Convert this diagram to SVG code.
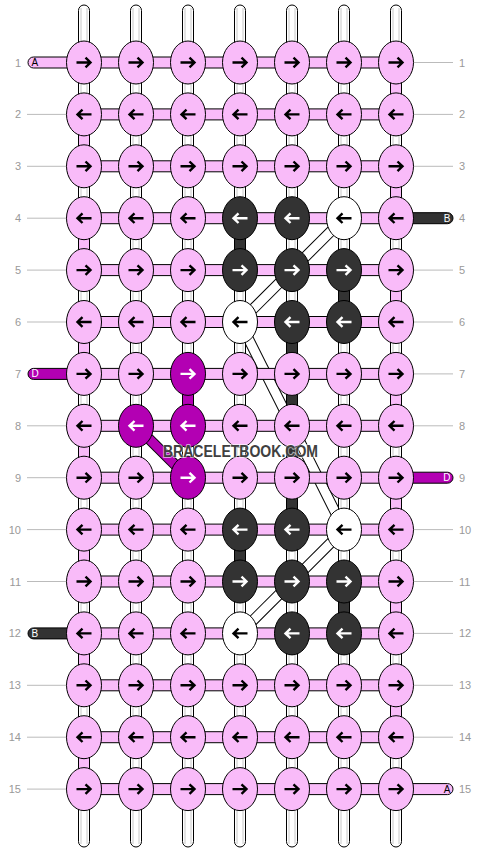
<svg xmlns="http://www.w3.org/2000/svg" xmlns:xlink="http://www.w3.org/1999/xlink" width="480" height="852" viewBox="0 0 480 852">
<style>
.p{fill:#f9bbf9;stroke:#000;stroke-width:1}
.d{fill:#333333;stroke:#000;stroke-width:1}
.m{fill:#b300b3;stroke:#000;stroke-width:1}
.w{fill:#ffffff;stroke:#000;stroke-width:1}
.ab{stroke:#000;fill:none;stroke-width:2.4}
.aw{stroke:#fff;fill:none;stroke-width:2.4}
.gl{stroke:#c8c8c8;stroke-width:1}
.ll{stroke:#bbbbbb;stroke-width:1}
.num{font-family:"Liberation Sans",Arial,sans-serif;font-size:11px;fill:#999999}
.sl{font-family:"Liberation Sans",Arial,sans-serif;font-size:10px}
</style>
<defs>
<path id="R" d="M-7.5,0H6M1.5,-4.8L6.5,0L1.5,4.8"/>
<path id="L" d="M7.5,0H-6M-1.5,-4.8L-6.5,0L-1.5,4.8"/>
<ellipse id="K" rx="17.5" ry="21.5"/>
</defs>
<rect width="480" height="852" fill="#fff"/>
<g id="labels">
<g class="ll">
<line x1="27" y1="114.4" x2="66" y2="114.4"/><line x1="27" y1="166.3" x2="66" y2="166.3"/><line x1="27" y1="218.2" x2="66" y2="218.2"/><line x1="27" y1="270.1" x2="66" y2="270.1"/><line x1="27" y1="322" x2="66" y2="322"/><line x1="27" y1="425.8" x2="66" y2="425.8"/><line x1="27" y1="477.7" x2="66" y2="477.7"/><line x1="27" y1="529.6" x2="66" y2="529.6"/><line x1="27" y1="581.5" x2="66" y2="581.5"/><line x1="27" y1="685.3" x2="66" y2="685.3"/><line x1="27" y1="737.2" x2="66" y2="737.2"/><line x1="27" y1="789.1" x2="66" y2="789.1"/>
<line x1="414" y1="62.5" x2="453" y2="62.5"/><line x1="414" y1="114.4" x2="453" y2="114.4"/><line x1="414" y1="166.3" x2="453" y2="166.3"/><line x1="414" y1="270.1" x2="453" y2="270.1"/><line x1="414" y1="322" x2="453" y2="322"/><line x1="414" y1="373.9" x2="453" y2="373.9"/><line x1="414" y1="425.8" x2="453" y2="425.8"/><line x1="414" y1="529.6" x2="453" y2="529.6"/><line x1="414" y1="581.5" x2="453" y2="581.5"/><line x1="414" y1="633.4" x2="453" y2="633.4"/><line x1="414" y1="685.3" x2="453" y2="685.3"/><line x1="414" y1="737.2" x2="453" y2="737.2"/>
</g>
<g class="num" text-anchor="end">
<text x="21" y="66.5">1</text><text x="21" y="118.4">2</text><text x="21" y="170.3">3</text><text x="21" y="222.2">4</text><text x="21" y="274.1">5</text><text x="21" y="326">6</text><text x="21" y="377.9">7</text><text x="21" y="429.8">8</text><text x="21" y="481.7">9</text><text x="21" y="533.6">10</text><text x="21" y="585.5">11</text><text x="21" y="637.4">12</text><text x="21" y="689.3">13</text><text x="21" y="741.2">14</text><text x="21" y="793.1">15</text>
</g>
<g class="num">
<text x="459" y="66.5">1</text><text x="459" y="118.4">2</text><text x="459" y="170.3">3</text><text x="459" y="222.2">4</text><text x="459" y="274.1">5</text><text x="459" y="326">6</text><text x="459" y="377.9">7</text><text x="459" y="429.8">8</text><text x="459" y="481.7">9</text><text x="459" y="533.6">10</text><text x="459" y="585.5">11</text><text x="459" y="637.4">12</text><text x="459" y="689.3">13</text><text x="459" y="741.2">14</text><text x="459" y="793.1">15</text>
</g>
</g>
<g id="connectors">
<g id="diagonals">
<g stroke="#000" stroke-width="11">
<line x1="344" y1="218.2" x2="240" y2="322"/><line x1="240" y1="322" x2="344" y2="529.6"/><line x1="344" y1="529.6" x2="240" y2="633.4"/><line x1="136" y1="425.8" x2="188" y2="477.7"/>
</g>
<g stroke="#fff" stroke-width="9">
<line x1="344" y1="218.2" x2="240" y2="322"/><line x1="240" y1="322" x2="344" y2="529.6"/><line x1="344" y1="529.6" x2="240" y2="633.4"/>
</g>
<line x1="136" y1="425.8" x2="188" y2="477.7" stroke="#b300b3" stroke-width="9"/>
</g>
<g id="vertical-threads">
<path class="w" d="M78.5,841.5V10.5A5.5,5.5 0 0 1 89.5,10.5V841.5A5.5,5.5 0 0 1 78.5,841.5Z"/>
<path class="w" d="M130.5,841.5V10.5A5.5,5.5 0 0 1 141.5,10.5V841.5A5.5,5.5 0 0 1 130.5,841.5Z"/>
<path class="w" d="M182.5,841.5V10.5A5.5,5.5 0 0 1 193.5,10.5V841.5A5.5,5.5 0 0 1 182.5,841.5Z"/>
<path class="w" d="M234.5,841.5V10.5A5.5,5.5 0 0 1 245.5,10.5V841.5A5.5,5.5 0 0 1 234.5,841.5Z"/>
<path class="w" d="M286.5,841.5V10.5A5.5,5.5 0 0 1 297.5,10.5V841.5A5.5,5.5 0 0 1 286.5,841.5Z"/>
<path class="w" d="M338.5,841.5V10.5A5.5,5.5 0 0 1 349.5,10.5V841.5A5.5,5.5 0 0 1 338.5,841.5Z"/>
<path class="w" d="M390.5,841.5V10.5A5.5,5.5 0 0 1 401.5,10.5V841.5A5.5,5.5 0 0 1 390.5,841.5Z"/>
<g class="gl">
<line x1="81" y1="8" x2="81" y2="844"/><line x1="87" y1="8" x2="87" y2="844"/>
<line x1="133" y1="8" x2="133" y2="844"/><line x1="139" y1="8" x2="139" y2="844"/>
<line x1="185" y1="8" x2="185" y2="844"/><line x1="191" y1="8" x2="191" y2="844"/>
<line x1="237" y1="8" x2="237" y2="844"/><line x1="243" y1="8" x2="243" y2="844"/>
<line x1="289" y1="8" x2="289" y2="844"/><line x1="295" y1="8" x2="295" y2="844"/>
<line x1="341" y1="8" x2="341" y2="844"/><line x1="347" y1="8" x2="347" y2="844"/>
<line x1="393" y1="8" x2="393" y2="844"/><line x1="399" y1="8" x2="399" y2="844"/>
</g>
<g class="p">
<rect x="390.5" y="62.5" width="11" height="51.9"/><rect x="390.5" y="166.3" width="11" height="51.9"/><rect x="390.5" y="270.1" width="11" height="51.9"/><rect x="390.5" y="373.9" width="11" height="51.9"/><rect x="390.5" y="477.7" width="11" height="51.9"/><rect x="390.5" y="581.5" width="11" height="51.9"/><rect x="390.5" y="685.3" width="11" height="51.9"/>
<rect x="78.5" y="114.4" width="11" height="51.9"/><rect x="78.5" y="218.2" width="11" height="51.9"/><rect x="78.5" y="322" width="11" height="51.9"/><rect x="78.5" y="425.8" width="11" height="51.9"/><rect x="78.5" y="529.6" width="11" height="51.9"/><rect x="78.5" y="633.4" width="11" height="51.9"/><rect x="78.5" y="737.2" width="11" height="51.9"/>
</g>
<g class="d">
<rect x="234.5" y="218.2" width="11" height="51.9"/><rect x="234.5" y="529.6" width="11" height="51.9"/>
<rect x="338.5" y="270.1" width="11" height="51.9"/><rect x="338.5" y="581.5" width="11" height="51.9"/>
<rect x="286.5" y="322" width="11" height="207.6"/>
</g>
<rect class="m" x="182.5" y="373.9" width="11" height="51.9"/>
</g>
<g id="edge-threads">
<path class="p" d="M84,57V68H33.5A5.5,5.5 0 0 1 33.5,57Z"/>
<path class="m" d="M84,368.4V379.4H33.5A5.5,5.5 0 0 1 33.5,368.4Z"/>
<path class="d" d="M84,627.9V638.9H33.5A5.5,5.5 0 0 1 33.5,627.9Z"/>
<path class="d" d="M396,212.7V223.7H447.5A5.5,5.5 0 0 0 447.5,212.7Z"/>
<path class="m" d="M396,472.2V483.2H447.5A5.5,5.5 0 0 0 447.5,472.2Z"/>
<path class="p" d="M396,783.6V794.6H447.5A5.5,5.5 0 0 0 447.5,783.6Z"/>
<text class="sl" x="31.5" y="66" fill="#000">A</text>
<text class="sl" x="31.5" y="377.4" fill="#fff">D</text>
<text class="sl" x="31.5" y="636.9" fill="#fff">B</text>
<text class="sl" x="450.5" y="221.7" fill="#fff" text-anchor="end">B</text>
<text class="sl" x="450.5" y="481.2" fill="#fff" text-anchor="end">D</text>
<text class="sl" x="450.5" y="792.6" fill="#000" text-anchor="end">A</text>
</g>
<g id="horizontal-threads" class="p">
<rect x="84" y="57" width="312" height="11"/><rect x="84" y="108.9" width="312" height="11"/><rect x="84" y="160.8" width="312" height="11"/><rect x="84" y="212.7" width="312" height="11"/><rect x="84" y="264.6" width="312" height="11"/><rect x="84" y="316.5" width="312" height="11"/><rect x="84" y="368.4" width="312" height="11"/><rect x="84" y="420.3" width="312" height="11"/><rect x="84" y="472.2" width="312" height="11"/><rect x="84" y="524.1" width="312" height="11"/><rect x="84" y="576" width="312" height="11"/><rect x="84" y="627.9" width="312" height="11"/><rect x="84" y="679.8" width="312" height="11"/><rect x="84" y="731.7" width="312" height="11"/><rect x="84" y="783.6" width="312" height="11"/>
</g>
</g>
<g id="knots">
<g id="k1-1" transform="translate(84,62.5)"><use href="#K" class="p"/><use href="#R" class="ab"/></g>
<g id="k1-2" transform="translate(136,62.5)"><use href="#K" class="p"/><use href="#R" class="ab"/></g>
<g id="k1-3" transform="translate(188,62.5)"><use href="#K" class="p"/><use href="#R" class="ab"/></g>
<g id="k1-4" transform="translate(240,62.5)"><use href="#K" class="p"/><use href="#R" class="ab"/></g>
<g id="k1-5" transform="translate(292,62.5)"><use href="#K" class="p"/><use href="#R" class="ab"/></g>
<g id="k1-6" transform="translate(344,62.5)"><use href="#K" class="p"/><use href="#R" class="ab"/></g>
<g id="k1-7" transform="translate(396,62.5)"><use href="#K" class="p"/><use href="#R" class="ab"/></g>
<g id="k2-1" transform="translate(84,114.4)"><use href="#K" class="p"/><use href="#L" class="ab"/></g>
<g id="k2-2" transform="translate(136,114.4)"><use href="#K" class="p"/><use href="#L" class="ab"/></g>
<g id="k2-3" transform="translate(188,114.4)"><use href="#K" class="p"/><use href="#L" class="ab"/></g>
<g id="k2-4" transform="translate(240,114.4)"><use href="#K" class="p"/><use href="#L" class="ab"/></g>
<g id="k2-5" transform="translate(292,114.4)"><use href="#K" class="p"/><use href="#L" class="ab"/></g>
<g id="k2-6" transform="translate(344,114.4)"><use href="#K" class="p"/><use href="#L" class="ab"/></g>
<g id="k2-7" transform="translate(396,114.4)"><use href="#K" class="p"/><use href="#L" class="ab"/></g>
<g id="k3-1" transform="translate(84,166.3)"><use href="#K" class="p"/><use href="#R" class="ab"/></g>
<g id="k3-2" transform="translate(136,166.3)"><use href="#K" class="p"/><use href="#R" class="ab"/></g>
<g id="k3-3" transform="translate(188,166.3)"><use href="#K" class="p"/><use href="#R" class="ab"/></g>
<g id="k3-4" transform="translate(240,166.3)"><use href="#K" class="p"/><use href="#R" class="ab"/></g>
<g id="k3-5" transform="translate(292,166.3)"><use href="#K" class="p"/><use href="#R" class="ab"/></g>
<g id="k3-6" transform="translate(344,166.3)"><use href="#K" class="p"/><use href="#R" class="ab"/></g>
<g id="k3-7" transform="translate(396,166.3)"><use href="#K" class="p"/><use href="#R" class="ab"/></g>
<g id="k4-1" transform="translate(84,218.2)"><use href="#K" class="p"/><use href="#L" class="ab"/></g>
<g id="k4-2" transform="translate(136,218.2)"><use href="#K" class="p"/><use href="#L" class="ab"/></g>
<g id="k4-3" transform="translate(188,218.2)"><use href="#K" class="p"/><use href="#L" class="ab"/></g>
<g id="k4-4" transform="translate(240,218.2)"><use href="#K" class="d"/><use href="#L" class="aw"/></g>
<g id="k4-5" transform="translate(292,218.2)"><use href="#K" class="d"/><use href="#L" class="aw"/></g>
<g id="k4-6" transform="translate(344,218.2)"><use href="#K" class="w"/><use href="#L" class="ab"/></g>
<g id="k4-7" transform="translate(396,218.2)"><use href="#K" class="p"/><use href="#L" class="ab"/></g>
<g id="k5-1" transform="translate(84,270.1)"><use href="#K" class="p"/><use href="#R" class="ab"/></g>
<g id="k5-2" transform="translate(136,270.1)"><use href="#K" class="p"/><use href="#R" class="ab"/></g>
<g id="k5-3" transform="translate(188,270.1)"><use href="#K" class="p"/><use href="#R" class="ab"/></g>
<g id="k5-4" transform="translate(240,270.1)"><use href="#K" class="d"/><use href="#R" class="aw"/></g>
<g id="k5-5" transform="translate(292,270.1)"><use href="#K" class="d"/><use href="#R" class="aw"/></g>
<g id="k5-6" transform="translate(344,270.1)"><use href="#K" class="d"/><use href="#R" class="aw"/></g>
<g id="k5-7" transform="translate(396,270.1)"><use href="#K" class="p"/><use href="#R" class="ab"/></g>
<g id="k6-1" transform="translate(84,322)"><use href="#K" class="p"/><use href="#L" class="ab"/></g>
<g id="k6-2" transform="translate(136,322)"><use href="#K" class="p"/><use href="#L" class="ab"/></g>
<g id="k6-3" transform="translate(188,322)"><use href="#K" class="p"/><use href="#L" class="ab"/></g>
<g id="k6-4" transform="translate(240,322)"><use href="#K" class="w"/><use href="#L" class="ab"/></g>
<g id="k6-5" transform="translate(292,322)"><use href="#K" class="d"/><use href="#L" class="aw"/></g>
<g id="k6-6" transform="translate(344,322)"><use href="#K" class="d"/><use href="#L" class="aw"/></g>
<g id="k6-7" transform="translate(396,322)"><use href="#K" class="p"/><use href="#L" class="ab"/></g>
<g id="k7-1" transform="translate(84,373.9)"><use href="#K" class="p"/><use href="#R" class="ab"/></g>
<g id="k7-2" transform="translate(136,373.9)"><use href="#K" class="p"/><use href="#R" class="ab"/></g>
<g id="k7-3" transform="translate(188,373.9)"><use href="#K" class="m"/><use href="#R" class="aw"/></g>
<g id="k7-4" transform="translate(240,373.9)"><use href="#K" class="p"/><use href="#R" class="ab"/></g>
<g id="k7-5" transform="translate(292,373.9)"><use href="#K" class="p"/><use href="#R" class="ab"/></g>
<g id="k7-6" transform="translate(344,373.9)"><use href="#K" class="p"/><use href="#R" class="ab"/></g>
<g id="k7-7" transform="translate(396,373.9)"><use href="#K" class="p"/><use href="#R" class="ab"/></g>
<g id="k8-1" transform="translate(84,425.8)"><use href="#K" class="p"/><use href="#L" class="ab"/></g>
<g id="k8-2" transform="translate(136,425.8)"><use href="#K" class="m"/><use href="#L" class="aw"/></g>
<g id="k8-3" transform="translate(188,425.8)"><use href="#K" class="m"/><use href="#L" class="aw"/></g>
<g id="k8-4" transform="translate(240,425.8)"><use href="#K" class="p"/><use href="#L" class="ab"/></g>
<g id="k8-5" transform="translate(292,425.8)"><use href="#K" class="p"/><use href="#L" class="ab"/></g>
<g id="k8-6" transform="translate(344,425.8)"><use href="#K" class="p"/><use href="#L" class="ab"/></g>
<g id="k8-7" transform="translate(396,425.8)"><use href="#K" class="p"/><use href="#L" class="ab"/></g>
<g id="k9-1" transform="translate(84,477.7)"><use href="#K" class="p"/><use href="#R" class="ab"/></g>
<g id="k9-2" transform="translate(136,477.7)"><use href="#K" class="p"/><use href="#R" class="ab"/></g>
<g id="k9-3" transform="translate(188,477.7)"><use href="#K" class="m"/><use href="#R" class="aw"/></g>
<g id="k9-4" transform="translate(240,477.7)"><use href="#K" class="p"/><use href="#R" class="ab"/></g>
<g id="k9-5" transform="translate(292,477.7)"><use href="#K" class="p"/><use href="#R" class="ab"/></g>
<g id="k9-6" transform="translate(344,477.7)"><use href="#K" class="p"/><use href="#R" class="ab"/></g>
<g id="k9-7" transform="translate(396,477.7)"><use href="#K" class="p"/><use href="#R" class="ab"/></g>
<g id="k10-1" transform="translate(84,529.6)"><use href="#K" class="p"/><use href="#L" class="ab"/></g>
<g id="k10-2" transform="translate(136,529.6)"><use href="#K" class="p"/><use href="#L" class="ab"/></g>
<g id="k10-3" transform="translate(188,529.6)"><use href="#K" class="p"/><use href="#L" class="ab"/></g>
<g id="k10-4" transform="translate(240,529.6)"><use href="#K" class="d"/><use href="#L" class="aw"/></g>
<g id="k10-5" transform="translate(292,529.6)"><use href="#K" class="d"/><use href="#L" class="aw"/></g>
<g id="k10-6" transform="translate(344,529.6)"><use href="#K" class="w"/><use href="#L" class="ab"/></g>
<g id="k10-7" transform="translate(396,529.6)"><use href="#K" class="p"/><use href="#L" class="ab"/></g>
<g id="k11-1" transform="translate(84,581.5)"><use href="#K" class="p"/><use href="#R" class="ab"/></g>
<g id="k11-2" transform="translate(136,581.5)"><use href="#K" class="p"/><use href="#R" class="ab"/></g>
<g id="k11-3" transform="translate(188,581.5)"><use href="#K" class="p"/><use href="#R" class="ab"/></g>
<g id="k11-4" transform="translate(240,581.5)"><use href="#K" class="d"/><use href="#R" class="aw"/></g>
<g id="k11-5" transform="translate(292,581.5)"><use href="#K" class="d"/><use href="#R" class="aw"/></g>
<g id="k11-6" transform="translate(344,581.5)"><use href="#K" class="d"/><use href="#R" class="aw"/></g>
<g id="k11-7" transform="translate(396,581.5)"><use href="#K" class="p"/><use href="#R" class="ab"/></g>
<g id="k12-1" transform="translate(84,633.4)"><use href="#K" class="p"/><use href="#L" class="ab"/></g>
<g id="k12-2" transform="translate(136,633.4)"><use href="#K" class="p"/><use href="#L" class="ab"/></g>
<g id="k12-3" transform="translate(188,633.4)"><use href="#K" class="p"/><use href="#L" class="ab"/></g>
<g id="k12-4" transform="translate(240,633.4)"><use href="#K" class="w"/><use href="#L" class="ab"/></g>
<g id="k12-5" transform="translate(292,633.4)"><use href="#K" class="d"/><use href="#L" class="aw"/></g>
<g id="k12-6" transform="translate(344,633.4)"><use href="#K" class="d"/><use href="#L" class="aw"/></g>
<g id="k12-7" transform="translate(396,633.4)"><use href="#K" class="p"/><use href="#L" class="ab"/></g>
<g id="k13-1" transform="translate(84,685.3)"><use href="#K" class="p"/><use href="#R" class="ab"/></g>
<g id="k13-2" transform="translate(136,685.3)"><use href="#K" class="p"/><use href="#R" class="ab"/></g>
<g id="k13-3" transform="translate(188,685.3)"><use href="#K" class="p"/><use href="#R" class="ab"/></g>
<g id="k13-4" transform="translate(240,685.3)"><use href="#K" class="p"/><use href="#R" class="ab"/></g>
<g id="k13-5" transform="translate(292,685.3)"><use href="#K" class="p"/><use href="#R" class="ab"/></g>
<g id="k13-6" transform="translate(344,685.3)"><use href="#K" class="p"/><use href="#R" class="ab"/></g>
<g id="k13-7" transform="translate(396,685.3)"><use href="#K" class="p"/><use href="#R" class="ab"/></g>
<g id="k14-1" transform="translate(84,737.2)"><use href="#K" class="p"/><use href="#L" class="ab"/></g>
<g id="k14-2" transform="translate(136,737.2)"><use href="#K" class="p"/><use href="#L" class="ab"/></g>
<g id="k14-3" transform="translate(188,737.2)"><use href="#K" class="p"/><use href="#L" class="ab"/></g>
<g id="k14-4" transform="translate(240,737.2)"><use href="#K" class="p"/><use href="#L" class="ab"/></g>
<g id="k14-5" transform="translate(292,737.2)"><use href="#K" class="p"/><use href="#L" class="ab"/></g>
<g id="k14-6" transform="translate(344,737.2)"><use href="#K" class="p"/><use href="#L" class="ab"/></g>
<g id="k14-7" transform="translate(396,737.2)"><use href="#K" class="p"/><use href="#L" class="ab"/></g>
<g id="k15-1" transform="translate(84,789.1)"><use href="#K" class="p"/><use href="#R" class="ab"/></g>
<g id="k15-2" transform="translate(136,789.1)"><use href="#K" class="p"/><use href="#R" class="ab"/></g>
<g id="k15-3" transform="translate(188,789.1)"><use href="#K" class="p"/><use href="#R" class="ab"/></g>
<g id="k15-4" transform="translate(240,789.1)"><use href="#K" class="p"/><use href="#R" class="ab"/></g>
<g id="k15-5" transform="translate(292,789.1)"><use href="#K" class="p"/><use href="#R" class="ab"/></g>
<g id="k15-6" transform="translate(344,789.1)"><use href="#K" class="p"/><use href="#R" class="ab"/></g>
<g id="k15-7" transform="translate(396,789.1)"><use href="#K" class="p"/><use href="#R" class="ab"/></g>
</g>
<text id="watermark" x="240.5" y="457" text-anchor="middle" font-family="'Liberation Sans',Arial,sans-serif" font-size="16.5" font-weight="bold" fill="#404040" stroke="#ffffff" stroke-opacity="0.6" stroke-width="2" paint-order="stroke" textLength="155" lengthAdjust="spacingAndGlyphs">BRACELETBOOK.COM</text>
</svg>
